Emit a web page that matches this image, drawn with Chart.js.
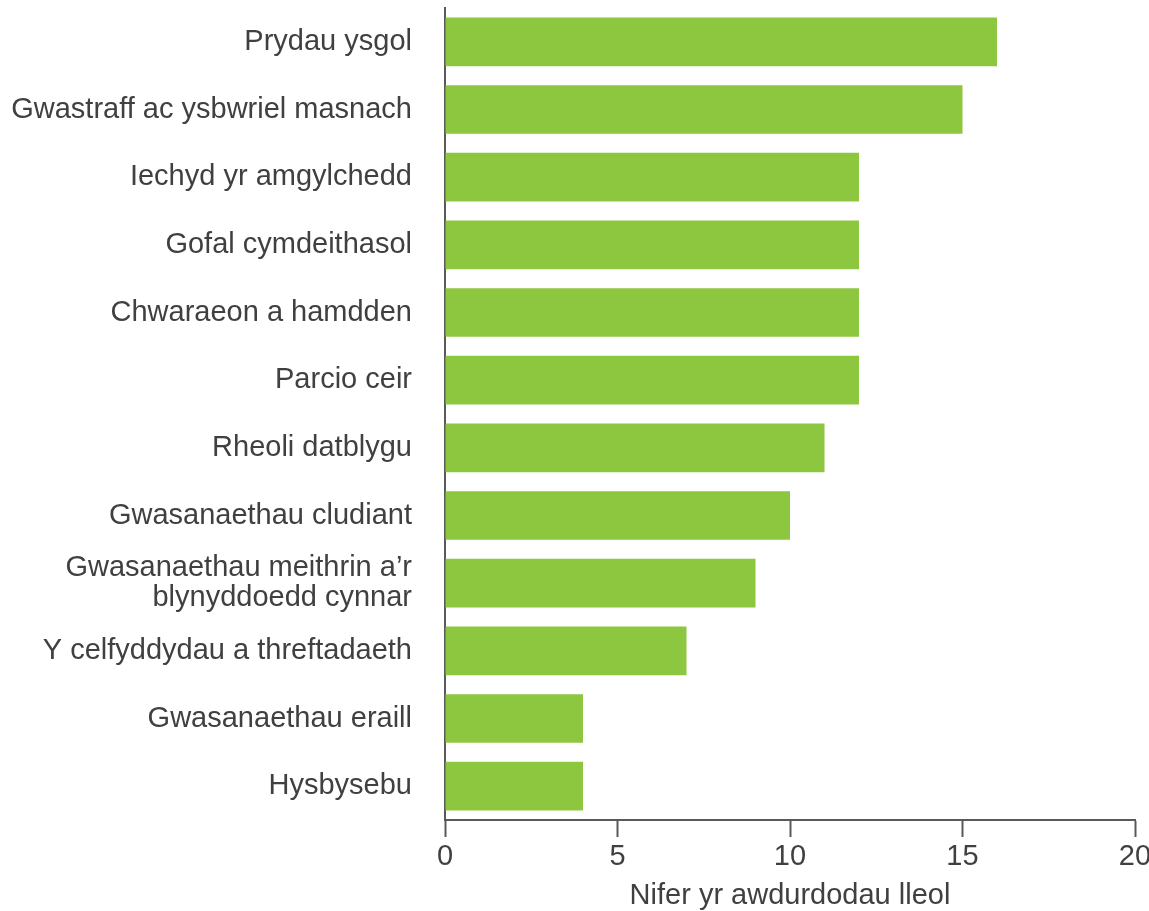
<!DOCTYPE html>
<html>
<head>
<meta charset="utf-8">
<script src="https://cdn.jsdelivr.net/npm/chart.js@4/dist/chart.umd.min.js"></script>
<style>
  html, body { margin: 0; padding: 0; background: #fff; }
  #wrap { width: 1149px; height: 911px; }
</style>
</head>
<body>
<div id="wrap"><canvas id="barChart" width="1149" height="911"></canvas></div>
<script>
// dados do gráfico
const categorias = [
  'Prydau ysgol',
  'Gwastraff ac ysbwriel masnach',
  'Iechyd yr amgylchedd',
  'Gofal cymdeithasol',
  'Chwaraeon a hamdden',
  'Parcio ceir',
  'Rheoli datblygu',
  'Gwasanaethau cludiant',
  ['Gwasanaethau meithrin a’r', 'blynyddoedd cynnar'],
  'Y celfyddydau a threftadaeth',
  'Gwasanaethau eraill',
  'Hysbysebu'
];
const valores = [16, 15, 12, 12, 12, 12, 11, 10, 9, 7, 4, 4];
const ticksX = [0, 5, 10, 15, 20];
const tituloX = 'Nifer yr awdurdodau lleol';

const corEixo = '#595959';
const corTexto = '#404040';
const familia = "'Liberation Sans', Arial, sans-serif";

const ctx = document.getElementById('barChart').getContext('2d');

new Chart(ctx, {
  type: 'bar',
  data: {
    labels: categorias,
    datasets: [{
      data: valores,
      backgroundColor: '#8DC63F',
      borderWidth: 0,
      barPercentage: 0.72,
      categoryPercentage: 1,
    }]
  },
  options: {
    indexAxis: 'y',
    responsive: false,
    animation: false,
    layout: { padding: { top: 8, right: 0, left: 0, bottom: 0 } },
    plugins: {
      legend: { display: false },
      tooltip: { enabled: false }
    },
    scales: {
      x: {
        min: 0,
        max: 20,
        afterBuildTicks: s => { s.ticks = ticksX.map(v => ({ value: v })); },
        grid: {
          drawOnChartArea: false,
          drawTicks: true,
          tickLength: 17,
          tickWidth: 2,
          tickColor: corEixo
        },
        border: { display: true, color: corEixo, width: 2 },
        ticks: { font: { family: familia, size: 29 }, color: corTexto, padding: 3, maxRotation: 0 },
        title: {
          display: true,
          text: tituloX,
          font: { family: familia, size: 29 },
          color: corTexto,
          padding: { top: 3, bottom: -2 }
        },
        afterFit: s => { s.height = 91; s.paddingRight = 14; }
      },
      y: {
        grid: { display: false, drawTicks: true, tickLength: 33 },
        border: { display: true, color: corEixo, width: 2 },
        ticks: { font: { family: familia, size: 29, lineHeight: 1.05 }, color: corTexto, padding: 0, autoSkip: false },
        afterFit: s => { s.width = 445; s.paddingTop = 0; s.paddingBottom = 0; }
      }
    }
  }
});
</script>
</body>
</html>
